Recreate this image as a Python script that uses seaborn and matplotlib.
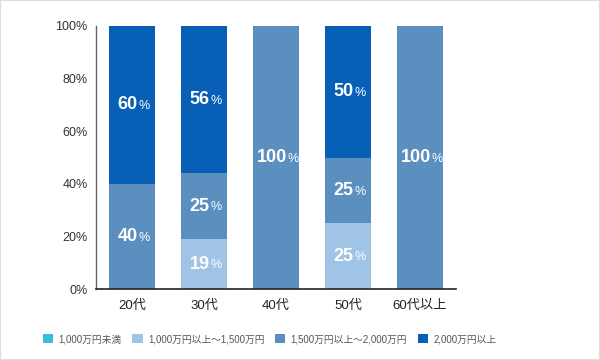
import numpy as np
import pandas as pd
import matplotlib
matplotlib.use('Agg')
import matplotlib.pyplot as plt
from matplotlib.patches import Patch, Rectangle
import seaborn as sns

# --- data --- #
ages = ['20代', '30代', '40代', '50代', '60代以上']
bands = ['1,000万円未満', '1,000万円以上～1,500万円', '1,500万円以上～2,000万円', '2,000万円以上']
under_1000 = [0, 0, 0, 0, 0]
from_1000_to_1500 = [0, 19, 0, 25, 0]
from_1500_to_2000 = [40, 25, 100, 25, 100]
over_2000 = [60, 56, 0, 50, 0]
colors = ['#3bbcdc', '#a0c4e6', '#5b8fc0', '#0760b5']
yticks = [0, 20, 40, 60, 80, 100]

sns.set_style('white')
plt.rcParams['font.family'] = ['Liberation Sans', 'Noto Sans CJK JP', 'DejaVu Sans']

df = pd.DataFrame({'age': ages, bands[0]: under_1000, bands[1]: from_1000_to_1500,
                   bands[2]: from_1500_to_2000, bands[3]: over_2000})
cum = df[bands].cumsum(axis=1)

fig = plt.figure(figsize=(6, 3.6), dpi=100)
ax = fig.add_axes([96 / 600, 1 - 289 / 360, 360 / 600, 263 / 360])

# stacked bars: draw cumulative totals from the top band down
for band, c in reversed(list(zip(bands, colors))):
    sns.barplot(x=df['age'], y=cum[band], color=c, width=0.64, ax=ax,
                saturation=1, order=ages, linewidth=0, edgecolor='none')

# value labels
for i, age in enumerate(ages):
    below = 0
    for band in bands:
        v = df.loc[i, band]
        if v > 0:
            t = ax.annotate(f'{v}', xy=(i, below + v / 2), xytext=(-3, 0),
                            textcoords='offset points', ha='center', va='center',
                            color='white', fontsize=13, fontweight='bold')
            ax.annotate('%', xy=(1, 0.08), xycoords=t, xytext=(0.2, 0),
                        textcoords='offset points', ha='left', va='bottom',
                        color='white', fontsize=9)
        below += v

ax.set_xlim(-0.5, len(ages) - 0.5)
ax.set_ylim(0, 100)
ax.set_xlabel('')
ax.set_ylabel('')
ax.set_yticks(yticks)
ax.set_yticklabels([f'{y}%' for y in yticks], fontsize=9, color='#333333')
ax.set_xticks(range(len(ages)))
ax.set_xticklabels(ages, fontsize=9.5, color='#222222')
ax.set_xticks(np.arange(0.5, len(ages), 1), minor=True)
ax.tick_params(axis='y', direction='in', length=9, width=1, color='#555555', pad=6)
ax.tick_params(axis='x', which='major', length=0, pad=8)
ax.tick_params(axis='x', which='minor', direction='in', length=6, width=1, color='#555555')
for s in ['top', 'right']:
    ax.spines[s].set_visible(False)
ax.spines['left'].set_color('#666666')
ax.spines['bottom'].set_color('#222222')
ax.spines['left'].set_linewidth(1)
ax.spines['bottom'].set_linewidth(1.2)

handles = [Patch(facecolor=c, edgecolor='none', label=b) for b, c in zip(bands, colors)]
fig.legend(handles=handles, ncol=4, loc='center left', bbox_to_anchor=(43 / 600, 1 - 339 / 360),
           frameon=False, fontsize=7, labelcolor='#555555', handlelength=1.05,
           handleheight=1.05, handletextpad=0.55, columnspacing=1.1, borderaxespad=0,
           borderpad=0)

fig.patches.append(Rectangle((0, 0), 1, 1, transform=fig.transFigure, fill=False,
                             edgecolor='#dddddd', linewidth=1.5))

plt.savefig('out.png', dpi=100)
